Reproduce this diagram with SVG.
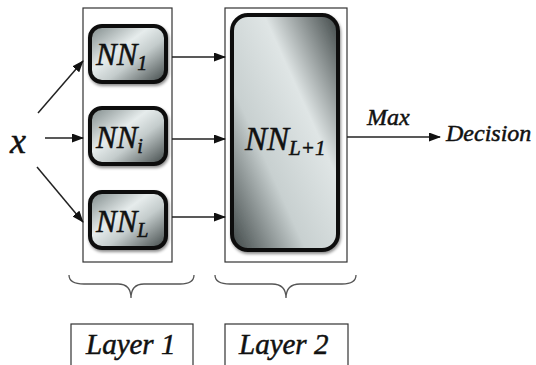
<svg xmlns="http://www.w3.org/2000/svg" width="536" height="365" viewBox="0 0 536 365">
<style>
.frame{fill:#fff;stroke:#333;stroke-width:1.2}
.nn{stroke:#111;stroke-width:4;filter:url(#sh)}
.lbl{font-family:"Liberation Serif",serif;font-style:italic;fill:#111;stroke:#111;stroke-width:0.5}
.edge{stroke:#222;stroke-width:1.5;fill:none}
.brace{stroke:#555;stroke-width:1.3;fill:none}
</style>
<defs>
<filter id="sh" x="-20%" y="-20%" width="140%" height="140%">
<feDropShadow dx="1" dy="2" stdDeviation="1.5" flood-color="#000" flood-opacity="0.45"/>
</filter>
<linearGradient id="g" x1="0" y1="0" x2="1" y2="1">
<stop offset="0" stop-color="#7d8888"/>
<stop offset="0.4" stop-color="#e6ecec"/>
<stop offset="0.6" stop-color="#c4cccc"/>
<stop offset="1" stop-color="#3e4646"/>
</linearGradient>
<linearGradient id="g2" x1="1" y1="0" x2="0" y2="1">
<stop offset="0" stop-color="#3e4646"/>
<stop offset="0.35" stop-color="#dfe5e5"/>
<stop offset="0.65" stop-color="#c8d0d0"/>
<stop offset="1" stop-color="#3e4646"/>
</linearGradient>
<marker id="ah" markerWidth="12" markerHeight="9" refX="11" refY="4.5" orient="auto" markerUnits="userSpaceOnUse">
<path d="M0,0 L12,4.5 L0,9 Z" fill="#111"/>
</marker>
</defs>
<g id="layer1-frame"><rect class="frame" x="83" y="8" width="89" height="254"/></g>
<g id="layer2-frame"><rect class="frame" x="225" y="8" width="122" height="254"/></g>
<g id="nn1"><rect class="nn" x="90" y="26" width="76" height="56" rx="12" fill="url(#g)"/>
<text class="lbl" x="96" y="65" font-size="31">NN<tspan font-size="20" dy="5">1</tspan></text></g>
<g id="nni"><rect class="nn" x="90" y="108" width="76" height="56" rx="12" fill="url(#g)"/>
<text class="lbl" x="96" y="148" font-size="31">NN<tspan font-size="20" dy="5">i</tspan></text></g>
<g id="nnl"><rect class="nn" x="90" y="192" width="76" height="56" rx="12" fill="url(#g)"/>
<text class="lbl" x="96" y="232" font-size="31">NN<tspan font-size="20" dy="5">L</tspan></text></g>
<g id="nnl1"><rect class="nn" x="232" y="15" width="106" height="235" rx="16" fill="url(#g2)"/>
<text class="lbl" x="245" y="150" font-size="33">NN<tspan font-size="21" dy="5">L+1</tspan></text></g>
<g id="x"><text class="lbl" x="10" y="153" font-size="36">x</text></g>
<g id="decision"><text class="lbl" x="446" y="141" font-size="24">Decision</text></g>
<g id="connectors">
<line class="edge" x1="38" y1="113" x2="83" y2="61" marker-end="url(#ah)"/>
<line class="edge" x1="45" y1="138" x2="83" y2="138" marker-end="url(#ah)"/>
<line class="edge" x1="37" y1="167" x2="83" y2="222" marker-end="url(#ah)"/>
<line class="edge" x1="172" y1="57" x2="225" y2="57" marker-end="url(#ah)"/>
<line class="edge" x1="172" y1="139" x2="225" y2="139" marker-end="url(#ah)"/>
<line class="edge" x1="172" y1="217" x2="225" y2="217" marker-end="url(#ah)"/>
<line class="edge" x1="347" y1="137" x2="440" y2="137" marker-end="url(#ah)"/>
<text class="lbl" x="367" y="125" font-size="24">Max</text>
</g>
<g id="brace1"><path class="brace" d="M69,275 Q69,284 84,284 L118,284 Q131,284 131,298 Q131,284 144,284 L180,284 Q194,284 194,275"/></g>
<g id="brace2"><path class="brace" d="M215,275 Q215,284 230,284 L272,284 Q286,284 286,298 Q286,284 300,284 L342,284 Q356,284 356,275"/></g>
<g id="layer1"><rect class="frame" x="71" y="324" width="122" height="50"/>
<text class="lbl" x="86" y="354" font-size="29">Layer 1</text></g>
<g id="layer2"><rect class="frame" x="225" y="324" width="123" height="50"/>
<text class="lbl" x="239" y="354" font-size="29">Layer 2</text></g>
</svg>
